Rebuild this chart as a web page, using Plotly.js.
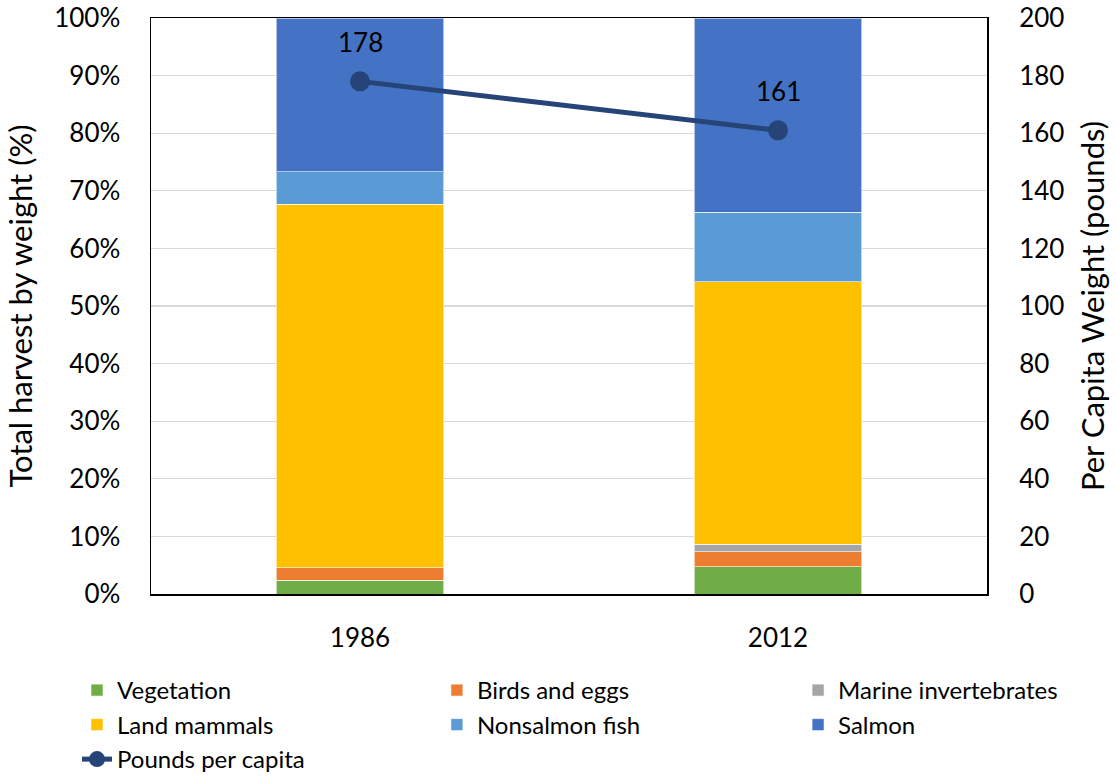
<!DOCTYPE html>
<html>
<head>
<meta charset="utf-8">
<script src="https://cdn.plot.ly/plotly-3.0.1.min.js"></script>
<style>html,body{margin:0;padding:0;background:#fff;}#chart{width:1116px;height:776px;}</style>
</head>
<body>
<div id="chart"></div>
<script>
// Data
const years = ['1986', '2012'];
const vegetation = [2.4, 4.7];
const birdsEggs = [2.2, 2.6];
const marineInvertebrates = [0, 1.3];
const landMammals = [63.1, 45.6];
const nonsalmonFish = [5.6, 12.1];
const salmon = [26.7, 33.7];
const poundsPerCapita = [178, 161];

const FONT = 'Lato, "Open Sans", sans-serif';
const segLine = {color: 'rgba(255,255,255,0.6)', width: 1};

function bar(name, y, color, legend) {
  return {type: 'bar', name: name, x: years, y: y, yaxis: 'y',
    marker: {color: color, line: segLine}, legend: legend, legendgroup: name,
    hoverinfo: 'name+y'};
}

const traces = [
  bar('Vegetation', vegetation, '#70AD47', 'legend'),
  bar('Birds and eggs', birdsEggs, '#ED7D31', 'legend2'),
  bar('Marine invertebrates', marineInvertebrates, '#A5A5A5', 'legend3'),
  bar('Land mammals', landMammals, '#FFC000', 'legend'),
  bar('Nonsalmon fish', nonsalmonFish, '#5B9BD5', 'legend2'),
  bar('Salmon', salmon, '#4472C4', 'legend3'),
  {type: 'scatter', mode: 'lines+markers', name: 'Pounds per capita',
   x: years, y: poundsPerCapita, yaxis: 'y2', legend: 'legend', legendgroup: 'ppc',
   line: {color: '#264478', width: 5}, marker: {color: '#264478', size: 20}}
];

// value labels above the line points (x given as category index)
const labels = years.map((yr, i) => ({
  x: i, y: poundsPerCapita[i], xref: 'x', yref: 'y2', text: String(poundsPerCapita[i]),
  showarrow: false, yshift: 39, font: {family: FONT, size: 26, color: '#000'}
}));

const legendBase = {
  orientation: 'v', xanchor: 'left', yanchor: 'top',
  y: -0.1285, font: {family: FONT, size: 24, color: '#000'},
  traceorder: 'grouped', tracegroupgap: 0.3, bgcolor: 'rgba(0,0,0,0)', itemwidth: 30
};

const layout = {
  width: 1116, height: 776,
  margin: {l: 151, r: 129, t: 18, b: 182, autoexpand: false},
  paper_bgcolor: '#fff', plot_bgcolor: '#fff',
  font: {family: FONT, size: 26, color: '#000'},
  barmode: 'stack', bargap: 0.6,
  showlegend: true,
  annotations: labels,
  xaxis: {type: 'category', range: [-0.5, 1.5], showline: true, linecolor: '#000', linewidth: 1.5, mirror: true,
    ticks: 'outside', ticklen: 20, tickcolor: 'rgba(0,0,0,0)', tickfont: {size: 26},
    showgrid: false, zeroline: false},
  yaxis: {range: [0, 100], dtick: 10, ticksuffix: '%', showline: true, linecolor: '#000',
    linewidth: 1.5, mirror: true, showgrid: true, gridcolor: '#D9D9D9', gridwidth: 1.2,
    ticks: 'outside', ticklen: 24, tickcolor: 'rgba(0,0,0,0)', zeroline: false,
    tickfont: {size: 26},
    title: {text: 'Total harvest by weight (%)', font: {size: 31}, standoff: 12}},
  yaxis2: {range: [0, 200], dtick: 20, overlaying: 'y', side: 'right', showgrid: false,
    zeroline: false, showline: false, ticks: 'outside', ticklen: 26,
    tickcolor: 'rgba(0,0,0,0)', tickfont: {size: 26},
    title: {text: 'Per Capita Weight (pounds)', font: {size: 31}, standoff: 18}},
  legend: Object.assign({}, legendBase, {x: -0.0885}),
  legend2: Object.assign({}, legendBase, {x: 0.342}),
  legend3: Object.assign({}, legendBase, {x: 0.774})
};

Plotly.newPlot('chart', traces, layout, {displayModeBar: false, staticPlot: true});
</script>
</body>
</html>
